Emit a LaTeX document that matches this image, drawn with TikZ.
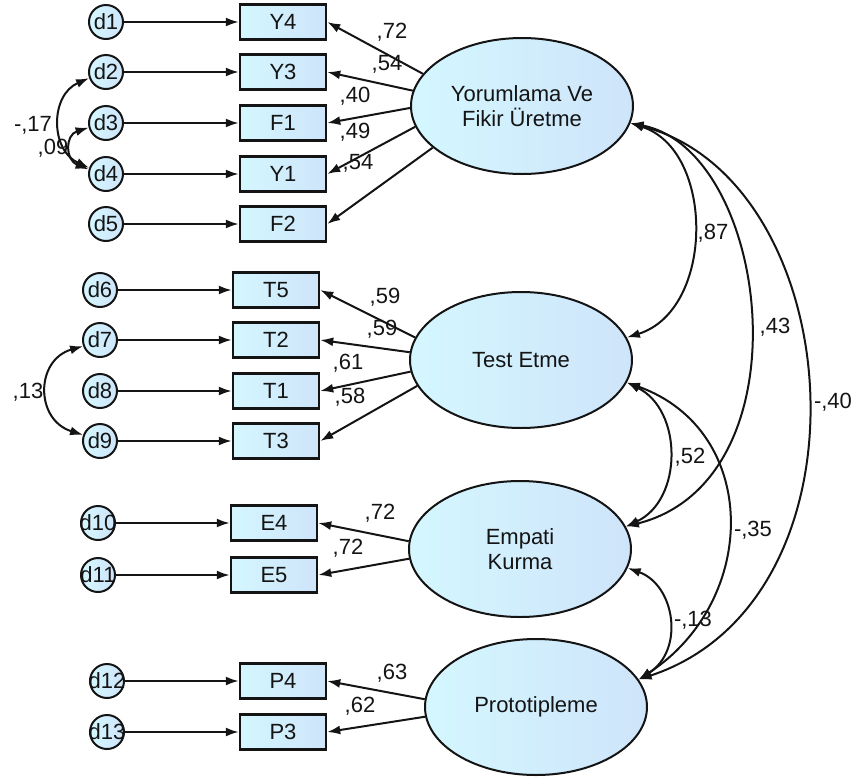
\documentclass[tikz,border=0pt]{standalone}
\usepackage{fontspec}
\setmainfont{Liberation Sans}
\usetikzlibrary{shapes.geometric,arrows.meta}
\definecolor{fillL}{RGB}{212,247,255}
\definecolor{fillR}{RGB}{206,228,250}
\definecolor{ink}{RGB}{20,20,20}
\begin{document}
\begin{tikzpicture}[x=1pt,y=-1pt,font=\fontsize{22}{25}\selectfont,
  obs/.style={draw=ink,line width=2.5pt,left color=fillL,right color=fillR,minimum width=86pt,minimum height=35pt,inner sep=0pt,text=ink},
  err/.style={circle,draw=ink,line width=2pt,left color=fillL,right color=fillR,minimum size=34pt,inner sep=0pt,text=ink},
  lat/.style={ellipse,draw=ink,line width=2pt,left color=fillL,right color=fillR,minimum width=222pt,minimum height=136pt,align=center,inner sep=0pt,text=ink},
  arr/.style={line width=2pt,draw=ink,-{Latex[length=13pt,width=9pt]}},
  dbl/.style={line width=2pt,draw=ink,{Latex[length=13pt,width=9pt]}-{Latex[length=13pt,width=9pt]}},
  lab/.style={text=ink,inner sep=0pt}]
\useasboundingbox (0,0) rectangle (855,780);

% latent variables
\node[lat] (Y) at (522,106) {Yorumlama Ve\\Fikir Üretme};
\node[lat] (T) at (521,360) {Test Etme};
\node[lat] (E) at (520,549) {Empati\\Kurma};
\node[lat] (P) at (536,707) {Prototipleme};

% observed
\node[obs] (Y4) at (283,22) {Y4};
\node[obs] (Y3) at (283,72) {Y3};
\node[obs] (F1) at (283,123) {F1};
\node[obs] (Y1) at (283,174) {Y1};
\node[obs] (F2) at (283,224) {F2};
\node[obs] (T5) at (276,290) {T5};
\node[obs] (T2) at (276,340) {T2};
\node[obs] (T1) at (276,391) {T1};
\node[obs] (T3) at (276,441) {T3};
\node[obs] (E4) at (274,523) {E4};
\node[obs] (E5) at (274,575) {E5};
\node[obs] (P4) at (283,681) {P4};
\node[obs] (P3) at (283,732) {P3};

% errors
\node[err] (d1) at (106,22) {\makebox[0pt]{d1}};
\node[err] (d2) at (106,72) {\makebox[0pt]{d2}};
\node[err] (d3) at (106,123) {\makebox[0pt]{d3}};
\node[err] (d4) at (106,174) {\makebox[0pt]{d4}};
\node[err] (d5) at (106,224) {\makebox[0pt]{d5}};
\node[err] (d6) at (100,290) {\makebox[0pt]{d6}};
\node[err] (d7) at (100,340) {\makebox[0pt]{d7}};
\node[err] (d8) at (100,391) {\makebox[0pt]{d8}};
\node[err] (d9) at (100,441) {\makebox[0pt]{d9}};
\node[err] (d10) at (98,523) {\makebox[0pt]{d10}};
\node[err] (d11) at (98,575) {\makebox[0pt]{d11}};
\node[err] (d12) at (107,681) {\makebox[0pt]{d12}};
\node[err] (d13) at (107,732) {\makebox[0pt]{d13}};

% error paths
\foreach \d/\o in {d1/Y4,d2/Y3,d3/F1,d4/Y1,d5/F2,d6/T5,d7/T2,d8/T1,d9/T3,d10/E4,d11/E5,d12/P4,d13/P3}
  \draw[arr] (\d.east) -- (\o.west);

% loadings
\draw[arr] (Y.162) -- (Y4.east);
\draw[arr] (Y.172) -- (Y3.east);
\draw[arr] (Y.181) -- (F1.east);
\draw[arr] (Y.191) -- (Y1.east);
\draw[arr] (Y.205) -- (F2.east);
\draw[arr] (T.168) -- (T5.east);
\draw[arr] (T.176) -- (T2.east);
\draw[arr] (T.186) -- (T1.east);
\draw[arr] (T.194) -- (T3.east);
\draw[arr] (E.176) -- (E4.east);
\draw[arr] (E.185) -- (E5.east);
\draw[arr] (P.176) -- (P4.east);
\draw[arr] (P.185) -- (P3.east);

\node[lab] (l1) at (392,32) {,72};
\node[lab] (l2) at (387,64) {,54};
\node[lab] (l3) at (355,96) {,40};
\node[lab] (l4) at (355,132) {,49};
\node[lab] (l5) at (358,163) {,54};
\node[lab] (l6) at (385,297) {,59};
\node[lab] (l7) at (382,329) {,59};
\node[lab] (l8) at (348,363) {,61};
\node[lab] (l9) at (350,397) {,58};
\node[lab] (l10) at (380,513) {,72};
\node[lab] (l11) at (348,548) {,72};
\node[lab] (l12) at (392,673) {,63};
\node[lab] (l13) at (360,706) {,62};

% error covariances
\draw[dbl] (d2.200) .. controls (50,95) and (50,150) .. (d4.160);
\draw[dbl] (d3.195) .. controls (65,135) and (65,160) .. (d4.165);
\draw[dbl] (d7.200) .. controls (35,360) and (35,420) .. (d9.160);
\node[lab] (c1) at (33,125) {-,17};
\node[lab] (c2) at (53,148) {,09};
\node[lab] (c3) at (28,392) {,13};

% factor correlations
\draw[dbl] (Y.-9) .. controls (715,150) and (715,310) .. (T.12);
\draw[dbl] (Y.-9) .. controls (770,150) and (810,480) .. (E.12);
\draw[dbl] (Y.-9) .. controls (850,180) and (880,600) .. (P.15);
\draw[dbl] (T.-12) .. controls (683,410) and (683,500) .. (E.12);
\draw[dbl] (T.-12) .. controls (760,430) and (760,600) .. (P.15);
\draw[dbl] (E.-10) .. controls (675,585) and (685,650) .. (P.15);
\node[lab] (r1) at (713,233) {,87};
\node[lab] (r2) at (775,327) {,43};
\node[lab] (r3) at (833,402) {-,40};
\node[lab] (r4) at (690,457) {,52};
\node[lab] (r5) at (753,530) {-,35};
\node[lab] (r6) at (693,620) {-,13};
\end{tikzpicture}
\end{document}
